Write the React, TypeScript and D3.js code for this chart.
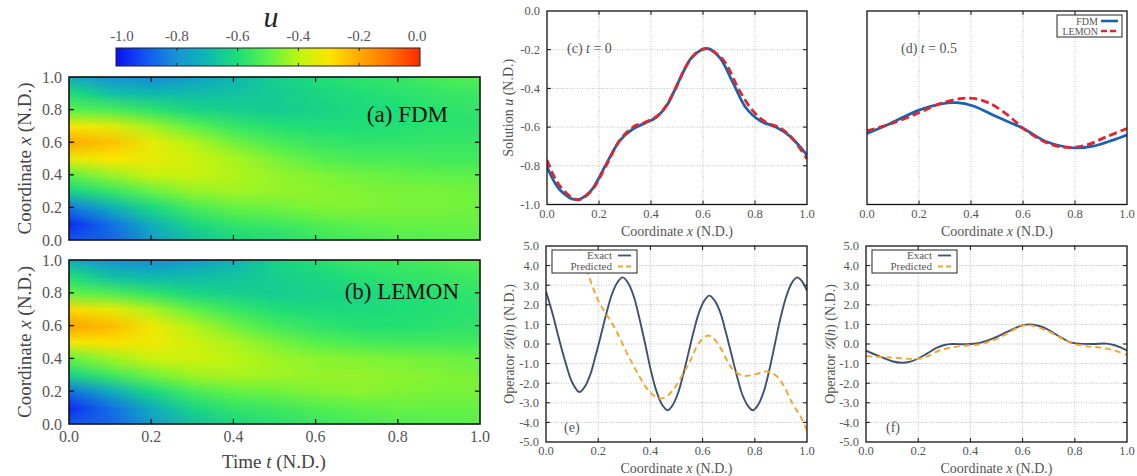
import React, { useMemo } from 'react';
import * as d3 from 'd3';

const W = 1137;
const H = 476;
const SERIF = "'Liberation Serif', 'DejaVu Serif', serif";

// colour bar (jet-like, u from -1 to 0)
const cbValues = [-1.0, -0.9, -0.8, -0.7, -0.6, -0.5, -0.4, -0.3, -0.2, -0.1, 0.0];
const cbColors = ['#0a10f4', '#1258f0', '#1694d4', '#0eb8b0', '#1ede78', '#5cf24a', '#bcf514', '#fae600', '#ffaa00', '#ff7200', '#ff2a00'];
const cbTicks = [-1.0, -0.8, -0.6, -0.4, -0.2, 0.0];

// heat maps: rows = coordinate x (0 .. 1), columns = time t (0 .. 1)
const heatT = [0, 0.1, 0.2, 0.3, 0.4, 0.5, 0.6, 0.7, 0.8, 0.9, 1.0];
const heatX = [0, 0.1, 0.2, 0.3, 0.4, 0.5, 0.6, 0.7, 0.8, 0.9, 1.0];
const fdmU = [
  [-0.9, -0.88, -0.77, -0.68, -0.62, -0.6, -0.56, -0.54, -0.52, -0.51, -0.5],
  [-0.96, -0.86, -0.72, -0.62, -0.57, -0.55, -0.52, -0.5, -0.49, -0.49, -0.49],
  [-0.84, -0.72, -0.61, -0.53, -0.49, -0.48, -0.46, -0.46, -0.47, -0.47, -0.48],
  [-0.63, -0.56, -0.49, -0.44, -0.43, -0.44, -0.45, -0.46, -0.47, -0.47, -0.48],
  [-0.5, -0.44, -0.38, -0.38, -0.41, -0.44, -0.46, -0.48, -0.49, -0.5, -0.5],
  [-0.33, -0.3, -0.33, -0.37, -0.42, -0.47, -0.51, -0.53, -0.53, -0.54, -0.54],
  [-0.2, -0.24, -0.33, -0.41, -0.48, -0.53, -0.56, -0.57, -0.57, -0.56, -0.56],
  [-0.3, -0.34, -0.43, -0.5, -0.56, -0.59, -0.6, -0.6, -0.59, -0.58, -0.58],
  [-0.5, -0.52, -0.57, -0.62, -0.64, -0.65, -0.63, -0.61, -0.6, -0.58, -0.57],
  [-0.6, -0.68, -0.7, -0.69, -0.67, -0.65, -0.62, -0.6, -0.58, -0.56, -0.55],
  [-0.74, -0.8, -0.81, -0.77, -0.71, -0.64, -0.6, -0.57, -0.56, -0.53, -0.51],
];
const lemonU = [
  [-0.89, -0.88, -0.77, -0.68, -0.62, -0.59, -0.56, -0.54, -0.52, -0.51, -0.5],
  [-0.96, -0.86, -0.73, -0.62, -0.57, -0.55, -0.52, -0.5, -0.49, -0.49, -0.49],
  [-0.85, -0.73, -0.61, -0.53, -0.49, -0.48, -0.46, -0.45, -0.46, -0.47, -0.47],
  [-0.63, -0.55, -0.48, -0.43, -0.42, -0.43, -0.44, -0.44, -0.45, -0.46, -0.47],
  [-0.49, -0.43, -0.37, -0.37, -0.4, -0.43, -0.45, -0.46, -0.47, -0.48, -0.49],
  [-0.31, -0.29, -0.32, -0.37, -0.42, -0.47, -0.51, -0.53, -0.54, -0.54, -0.54],
  [-0.19, -0.23, -0.32, -0.41, -0.48, -0.54, -0.57, -0.59, -0.59, -0.58, -0.57],
  [-0.28, -0.33, -0.42, -0.5, -0.56, -0.6, -0.61, -0.61, -0.6, -0.59, -0.58],
  [-0.49, -0.52, -0.57, -0.62, -0.64, -0.65, -0.63, -0.62, -0.6, -0.58, -0.57],
  [-0.6, -0.68, -0.7, -0.69, -0.67, -0.64, -0.62, -0.59, -0.57, -0.56, -0.54],
  [-0.74, -0.8, -0.81, -0.77, -0.71, -0.63, -0.59, -0.56, -0.55, -0.53, -0.51],
];

// (c) t = 0 and (d) t = 0.5 : [x, u]
const fdmT0: [number, number][] = [
  [0, -0.805], [0.05, -0.925], [0.112, -0.975], [0.165, -0.935], [0.228, -0.79], [0.28, -0.67],
  [0.33, -0.61], [0.38, -0.578], [0.42, -0.55], [0.46, -0.49], [0.51, -0.355], [0.56, -0.235],
  [0.62, -0.195], [0.665, -0.242], [0.715, -0.37], [0.765, -0.5], [0.82, -0.568], [0.88, -0.6],
  [0.935, -0.648], [1.0, -0.745],
];
const lemonT0: [number, number][] = [
  [0, -0.77], [0.047, -0.9], [0.118, -0.976], [0.17, -0.93], [0.227, -0.8], [0.279, -0.67],
  [0.33, -0.6], [0.381, -0.573], [0.433, -0.533], [0.484, -0.43], [0.535, -0.285], [0.58, -0.21],
  [0.615, -0.194], [0.676, -0.25], [0.741, -0.413], [0.792, -0.516], [0.843, -0.576], [0.894, -0.602],
  [0.946, -0.662], [1.0, -0.765],
];
const fdmT05: [number, number][] = [
  [0, -0.633], [0.09, -0.581], [0.2, -0.512], [0.281, -0.481], [0.345, -0.474], [0.409, -0.491],
  [0.499, -0.547], [0.601, -0.607], [0.691, -0.676], [0.793, -0.707], [0.87, -0.698], [0.946, -0.667],
  [1.0, -0.641],
];
const lemonT05: [number, number][] = [
  [0, -0.619], [0.09, -0.584], [0.2, -0.526], [0.281, -0.478], [0.358, -0.453], [0.409, -0.452],
  [0.473, -0.478], [0.55, -0.547], [0.601, -0.607], [0.691, -0.681], [0.767, -0.705], [0.844, -0.693],
  [0.921, -0.65], [1.0, -0.607],
];

// (e) and (f) operator G(h) : [x, value]
const exactE: [number, number][] = [
  [0, 2.68], [0.025, 1.55], [0.05, 0.25], [0.075, -0.95], [0.1, -1.95], [0.128, -2.45], [0.15, -2.15],
  [0.17, -1.55], [0.19, -0.6], [0.211, 0.48], [0.232, 1.6], [0.253, 2.55], [0.274, 3.15], [0.294, 3.4],
  [0.315, 3.1], [0.337, 2.4], [0.358, 1.3], [0.38, 0.0], [0.401, -1.3], [0.423, -2.4], [0.445, -3.1],
  [0.466, -3.38], [0.486, -3.1], [0.506, -2.5], [0.526, -1.55], [0.546, -0.45], [0.566, 0.65],
  [0.586, 1.6], [0.606, 2.2], [0.626, 2.47], [0.647, 2.2], [0.668, 1.6], [0.689, 0.6], [0.709, -0.45],
  [0.73, -1.55], [0.75, -2.5], [0.771, -3.1], [0.792, -3.38], [0.813, -3.1], [0.835, -2.4],
  [0.856, -1.3], [0.877, 0.0], [0.898, 1.3], [0.92, 2.4], [0.941, 3.1], [0.962, 3.4], [0.981, 3.2],
  [1.0, 2.72],
];
const predictedE: [number, number][] = [
  [0.12, 5.3], [0.128, 5.0], [0.166, 3.4], [0.204, 2.1], [0.23, 1.55], [0.268, 0.7], [0.306, -0.35],
  [0.345, -1.35], [0.383, -2.2], [0.41, -2.6], [0.437, -2.77], [0.46, -2.7], [0.48, -2.45],
  [0.502, -2.05], [0.549, -0.95], [0.587, 0.07], [0.619, 0.43], [0.64, 0.3], [0.664, -0.1],
  [0.69, -0.75], [0.715, -1.28], [0.753, -1.62], [0.792, -1.58], [0.85, -1.4], [0.88, -1.6],
  [0.907, -2.04], [0.945, -3.06], [0.977, -3.74], [1.0, -4.42],
];
const exactF: [number, number][] = [
  [0, -0.34], [0.05, -0.62], [0.1, -0.88], [0.136, -0.96], [0.17, -0.9], [0.2, -0.74], [0.235, -0.48],
  [0.27, -0.2], [0.3, -0.05], [0.33, 0.0], [0.38, -0.01], [0.43, 0.04], [0.48, 0.25], [0.538, 0.6],
  [0.596, 0.94], [0.628, 1.0], [0.66, 0.93], [0.69, 0.79], [0.72, 0.55], [0.755, 0.28], [0.78, 0.1],
  [0.806, 0.03], [0.87, 0.0], [0.92, 0.02], [0.95, -0.05], [0.975, -0.17], [1.0, -0.33],
];
const predictedF: [number, number][] = [
  [0, -0.62], [0.092, -0.69], [0.2, -0.75], [0.24, -0.6], [0.283, -0.32], [0.36, -0.11], [0.436, -0.01],
  [0.49, 0.2], [0.538, 0.52], [0.59, 0.88], [0.62, 0.97], [0.66, 0.85], [0.717, 0.53], [0.76, 0.2],
  [0.8, -0.01], [0.85, -0.12], [0.895, -0.18], [0.95, -0.32], [1.0, -0.57],
];

const unitTicks = [0, 0.2, 0.4, 0.6, 0.8, 1.0];
const solTicks = [-1.0, -0.8, -0.6, -0.4, -0.2, 0.0];
const opTicks = [-5, -4, -3, -2, -1, 0, 1, 2, 3, 4, 5];

const BLUE = '#1b63b0';
const RED = '#e0262d';
const SLATE = '#3f5170';
const ORANGE = '#f5a42a';

const fmt = (v: number) => d3.format('.1f')(v).replace('\u2212', '-');
const colorScale = d3
  .scaleLinear<string>()
  .domain(cbValues)
  .range(cbColors)
  .interpolate(d3.interpolateRgb)
  .clamp(true);

// paints the grid into a tiny bitmap; the browser smooths it when scaled
function gridImage(grid: number[][]) {
  const nx = grid.length;
  const nt = grid[0].length;
  const c = document.createElement('canvas');
  c.width = nt;
  c.height = nx;
  const ctx = c.getContext('2d');
  if (!ctx) return '';
  const img = ctx.createImageData(nt, nx);
  grid.forEach((row, i) => {
    row.forEach((v, j) => {
      const col = d3.rgb(colorScale(v));
      const k = ((nx - 1 - i) * nt + j) * 4;
      img.data[k] = col.r;
      img.data[k + 1] = col.g;
      img.data[k + 2] = col.b;
      img.data[k + 3] = 255;
    });
  });
  ctx.putImageData(img, 0, 0);
  return c.toDataURL();
}

const CoordLabel = ({ italic }: { italic: string }) => (
  <>
    {'Coordinate '}
    <tspan fontStyle="italic">{italic}</tspan>
    {' (N.D.)'}
  </>
);

function HeatPanel({ id, grid, top, bottom, label, labelX, labelY, showX }: any) {
  const tS = d3.scaleLinear().domain([0, 1]).range([69, 480]);
  const xS = d3.scaleLinear().domain([0, 1]).range([bottom, top]);
  const href = useMemo(() => gridImage(grid), [grid]);
  const dt = heatT[1] - heatT[0];
  const dx = heatX[1] - heatX[0];
  const inner = [0.2, 0.4, 0.6, 0.8];
  return (
    <g>
      <clipPath id={id}>
        <rect x={tS(0)} y={xS(1)} width={tS(1) - tS(0)} height={xS(0) - xS(1)} />
      </clipPath>
      <image
        href={href}
        x={tS(heatT[0] - dt / 2)}
        y={xS(heatX[heatX.length - 1] + dx / 2)}
        width={tS(heatT[heatT.length - 1] + dt / 2) - tS(heatT[0] - dt / 2)}
        height={xS(heatX[0] - dx / 2) - xS(heatX[heatX.length - 1] + dx / 2)}
        preserveAspectRatio="none"
        clipPath={`url(#${id})`}
      />
      {inner.map((v) => (
        <g key={v} stroke="#111" strokeWidth={1.3}>
          <line x1={tS(v)} x2={tS(v)} y1={xS(1)} y2={xS(1) + 5} />
          <line x1={tS(v)} x2={tS(v)} y1={xS(0)} y2={xS(0) - 5} />
          <line x1={tS(0)} x2={tS(0) + 5} y1={xS(v)} y2={xS(v)} />
          <line x1={tS(1)} x2={tS(1) - 5} y1={xS(v)} y2={xS(v)} />
        </g>
      ))}
      <rect x={tS(0)} y={xS(1)} width={tS(1) - tS(0)} height={xS(0) - xS(1)} fill="none" stroke="#111" strokeWidth={1.6} />
      {unitTicks.map((v) => (
        <text key={v} x={62} y={xS(v)} dy="0.35em" textAnchor="end" fontSize={16} fill="#555">
          {fmt(v)}
        </text>
      ))}
      {showX &&
        unitTicks.map((v) => (
          <text key={v} x={tS(v)} y={xS(0) + 18} textAnchor="middle" fontSize={16} fill="#555">
            {fmt(v)}
          </text>
        ))}
      <text transform={`translate(31,${(xS(0) + xS(1)) / 2}) rotate(-90)`} textAnchor="middle" fontSize={19} fill="#444">
        <CoordLabel italic="x" />
      </text>
      <text x={labelX} y={labelY} textAnchor="end" fontSize={23} fill="#111">
        {label}
      </text>
    </g>
  );
}

function LinePanel(p: any) {
  const xS = d3.scaleLinear().domain([0, 1]).range([p.left, p.right]);
  const yS = d3.scaleLinear().domain(p.yDomain).range([p.bottom, p.top]);
  const line = d3
    .line<[number, number]>()
    .x((d) => xS(d[0]))
    .y((d) => yS(d[1]))
    .curve(d3.curveCatmullRom.alpha(0.5));
  const yInner = p.yTicks.slice(1, -1);
  const xInner = unitTicks.slice(1, -1);
  const lg = p.legend;
  return (
    <g>
      <clipPath id={p.id}>
        <rect x={p.left} y={p.top} width={p.right - p.left} height={p.bottom - p.top} />
      </clipPath>
      <g stroke="#bdbdbd" strokeWidth={1} strokeDasharray="1,1.5">
        {xInner.map((v: number) => (
          <line key={v} x1={xS(v)} x2={xS(v)} y1={p.top} y2={p.bottom} />
        ))}
        {p.hGrid &&
          yInner.map((v: number) => <line key={v} x1={p.left} x2={p.right} y1={yS(v)} y2={yS(v)} />)}
      </g>
      <g stroke="#111" strokeWidth={1}>
        {xInner.map((v: number) => (
          <g key={v}>
            <line x1={xS(v)} x2={xS(v)} y1={p.top} y2={p.top + 4} />
            <line x1={xS(v)} x2={xS(v)} y1={p.bottom} y2={p.bottom - 4} />
          </g>
        ))}
        {p.yAxisTicks &&
          yInner.map((v: number) => (
            <g key={v}>
              <line x1={p.left} x2={p.left + 4} y1={yS(v)} y2={yS(v)} />
              <line x1={p.right} x2={p.right - 4} y1={yS(v)} y2={yS(v)} />
            </g>
          ))}
      </g>
      <g clipPath={`url(#${p.id})`} fill="none">
        {p.series.map((s: any, i: number) => (
          <path key={i} d={line(s.data) || ''} stroke={s.color} strokeWidth={s.width} strokeDasharray={s.dash} />
        ))}
      </g>
      <rect x={p.left} y={p.top} width={p.right - p.left} height={p.bottom - p.top} fill="none" stroke="#111" strokeWidth={1.3} />
      {unitTicks.map((v) => (
        <text key={v} x={xS(v)} y={p.bottom + 13} textAnchor="middle" fontSize={12.5} fill="#555">
          {fmt(v)}
        </text>
      ))}
      {p.yTickLabels &&
        p.yTicks.map((v: number) => (
          <text key={v} x={p.left - 7} y={yS(v)} dy="0.35em" textAnchor="end" fontSize={12.5} fill="#555">
            {fmt(v)}
          </text>
        ))}
      <text x={(p.left + p.right) / 2} y={p.bottom + 31} textAnchor="middle" fontSize={14} fill="#555">
        <CoordLabel italic="x" />
      </text>
      {p.yLabel && (
        <text transform={`translate(${p.yLabelX},${(p.top + p.bottom) / 2}) rotate(-90)`} textAnchor="middle" fontSize={14} fill="#555">
          {p.yLabel}
        </text>
      )}
      <text x={p.noteX} y={p.noteY} fontSize={14} fill="#555">
        {p.note}
      </text>
      {lg && (
        <g>
          <rect x={lg.x} y={lg.y} width={lg.w} height={lg.h} fill="#fff" stroke="#222" strokeWidth={1} />
          {lg.items.map((it: any, i: number) => {
            const yy = lg.y + lg.first + i * lg.step;
            return (
              <g key={i}>
                <text x={lg.x + lg.w - lg.textOff} y={yy} dy="0.35em" textAnchor="end" fontSize={lg.fs} fill="#555">
                  {it.label}
                </text>
                <line x1={lg.x + lg.w - lg.s0} x2={lg.x + lg.w - lg.s1} y1={yy} y2={yy} stroke={it.color} strokeWidth={it.width} strokeDasharray={it.dash} />
              </g>
            );
          })}
        </g>
      )}
    </g>
  );
}

const opLabel = (
  <>
    {'Operator '}
    <tspan fontStyle="italic">{'\u{1D4A2}'}</tspan>
    {'('}
    <tspan fontStyle="italic">h</tspan>
    {') (N.D.)'}
  </>
);
const solLabel = (
  <>
    {'Solution '}
    <tspan fontStyle="italic">u</tspan>
    {' (N.D.)'}
  </>
);

export default function App() {
  const cb = d3.scaleLinear().domain([-1, 0]).range([116, 420]);
  const solLegend = {
    x: 1057, y: 15, w: 65, h: 22, first: 6, step: 10, textOff: 24, s0: 21, s1: 4, fs: 10,
    items: [
      { label: 'FDM', color: BLUE, width: 2.6 },
      { label: 'LEMON', color: RED, width: 2.6, dash: '6,3' },
    ],
  };
  const opLegend = (x: number) => ({
    x, y: 250, w: 85, h: 23, first: 5.5, step: 11, textOff: 25, s0: 19, s1: 6, fs: 11,
    items: [
      { label: 'Exact', color: SLATE, width: 1.8 },
      { label: 'Predicted', color: ORANGE, width: 1.8, dash: '5,3' },
    ],
  });
  return (
    <svg
      width={W}
      height={H}
      style={{ position: 'absolute', left: 0, top: 0, background: '#fff', fontFamily: SERIF }}
    >
      <defs>
        <linearGradient id="cbGrad" x1="0" x2="1" y1="0" y2="0">
          {cbValues.map((v, i) => (
            <stop key={v} offset={(v + 1) / 1} stopColor={cbColors[i]} />
          ))}
        </linearGradient>
      </defs>

      {/* colour bar */}
      <text x={271} y={27} textAnchor="middle" fontSize={30} fontStyle="italic" fill="#222">
        u
      </text>
      <rect x={cb(-1)} y={48} width={cb(0) - cb(-1)} height={18} fill="url(#cbGrad)" stroke="#222" strokeWidth={1} />
      {cbTicks.map((v) => (
        <g key={v}>
          {v > -1 && v < 0 && (
            <g stroke="#222" strokeWidth={1}>
              <line x1={cb(v)} x2={cb(v)} y1={48} y2={51} />
              <line x1={cb(v)} x2={cb(v)} y1={66} y2={63} />
            </g>
          )}
          <text x={cb(v) + (v === -1 ? 6 : v === 0 ? -3 : 0)} y={41} textAnchor="middle" fontSize={15} fill="#555">
            {fmt(v)}
          </text>
        </g>
      ))}

      <HeatPanel id="clipA" grid={fdmU} top={77} bottom={240} label="(a) FDM" labelX={448} labelY={122} />
      <HeatPanel id="clipB" grid={lemonU} top={260} bottom={424} label="(b) LEMON" labelX={459} labelY={299} showX />
      <text x={274} y={468} textAnchor="middle" fontSize={19} fill="#444">
        {'Time '}
        <tspan fontStyle="italic">t</tspan>
        {' (N.D.)'}
      </text>

      <LinePanel
        id="clipC" left={547} right={807} top={11} bottom={204.5}
        yDomain={[-1, 0]} yTicks={solTicks} yTickLabels hGrid yAxisTicks
        yLabel={solLabel} yLabelX={513}
        note={<>{'(c) '}<tspan fontStyle="italic">t</tspan>{' = 0'}</>} noteX={567} noteY={53}
        series={[
          { data: fdmT0, color: BLUE, width: 2.8 },
          { data: lemonT0, color: RED, width: 2.8, dash: '8,4' },
        ]}
      />
      <LinePanel
        id="clipD" left={867} right={1127} top={11} bottom={204.5}
        yDomain={[-1, 0]} yTicks={solTicks}
        note={<>{'(d) '}<tspan fontStyle="italic">t</tspan>{' = 0.5'}</>} noteX={901} noteY={53}
        series={[
          { data: fdmT05, color: BLUE, width: 2.8 },
          { data: lemonT05, color: RED, width: 2.8, dash: '8,4' },
        ]}
        legend={solLegend}
      />
      <LinePanel
        id="clipE" left={546} right={807} top={246} bottom={442}
        yDomain={[-5, 5]} yTicks={opTicks} yTickLabels hGrid yAxisTicks
        yLabel={opLabel} yLabelX={514}
        note="(e)" noteX={564} noteY={432}
        series={[
          { data: exactE, color: SLATE, width: 1.9 },
          { data: predictedE, color: ORANGE, width: 1.9, dash: '6,4' },
        ]}
        legend={opLegend(552)}
      />
      <LinePanel
        id="clipF" left={866} right={1127} top={246} bottom={442}
        yDomain={[-5, 5]} yTicks={opTicks} yTickLabels hGrid yAxisTicks
        yLabel={opLabel} yLabelX={835}
        note="(f)" noteX={886} noteY={432}
        series={[
          { data: exactF, color: SLATE, width: 1.9 },
          { data: predictedF, color: ORANGE, width: 1.9, dash: '6,4' },
        ]}
        legend={opLegend(872)}
      />
    </svg>
  );
}
